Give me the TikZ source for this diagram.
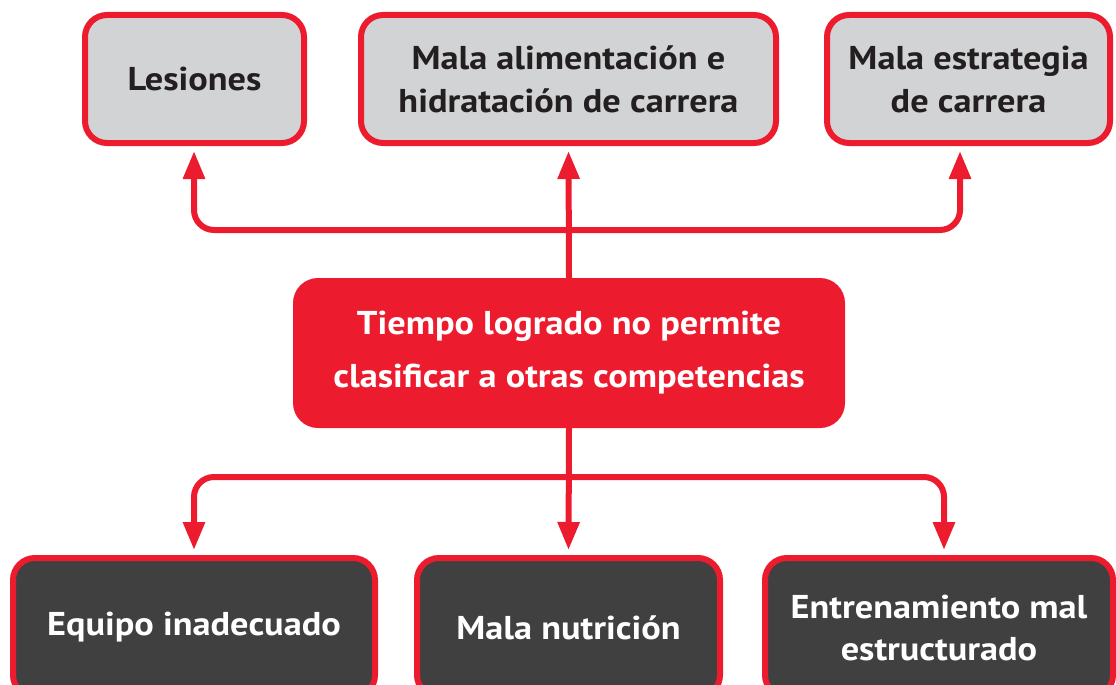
\documentclass[tikz,border=0pt]{standalone}
\usepackage{fontspec}
\setmainfont{PT Sans}[FakeStretch=1.1]
\usetikzlibrary{arrows.meta}
\definecolor{cred}{HTML}{EC1C2E}
\definecolor{cgray}{HTML}{D1D3D4}
\definecolor{cdark}{HTML}{404041}
\definecolor{ctext}{HTML}{231F20}
\tikzset{
  topbox/.style={draw=cred, line width=6pt, fill=cgray, rounded corners=22pt, inner sep=0pt,
    minimum height=128pt, align=center, text=ctext, font=\bfseries\fontsize{33}{43}\selectfont},
  botbox/.style={draw=cred, line width=6pt, fill=cdark, rounded corners=22pt, inner sep=0pt,
    minimum height=139pt, align=center, text=white, font=\bfseries\fontsize{33}{42}\selectfont},
  ctrbox/.style={fill=cred, rounded corners=25pt, inner sep=0pt, minimum width=552pt,
    minimum height=150pt, align=center, text=white, font=\bfseries\fontsize{33}{53}\selectfont},
  conn/.style={draw=cred, line width=6pt, rounded corners=20pt,
    -{Triangle[width=21pt,length=28pt]}, shorten >=5pt},
}
\begin{document}
\begin{tikzpicture}[x=1pt,y=-1pt]
\useasboundingbox (0,0) rectangle (1116,685);
\clip (0,0) rectangle (1116,685);
% top boxes
\node[topbox, minimum width=219pt] (les) at (194.5,79) {Lesiones};
\node[topbox, minimum width=415pt] (ali) at (568.5,79) {Mala alimentación e\\hidratación de carrera};
\node[topbox, minimum width=283pt] (est) at (968.5,79) {Mala estrategia\\de carrera};
% center
\node[ctrbox] (ctr) at (569,353) {Tiempo logrado no permite\\clasificar a otras competencias};
% bottom boxes
\node[botbox, minimum width=362pt] (equ) at (194,627.5) {Equipo inadecuado};
\node[botbox, minimum width=303pt] (nut) at (568.5,627.5) {Mala nutrición};
\node[botbox, minimum width=348pt] (ent) at (939,627.5) {Entrenamiento mal\\estructurado};
% junctions
\coordinate (hT) at (0,230);
\coordinate (hB) at (0,477);
\coordinate (jT) at (ctr.north |- hT);
\coordinate (jB) at (ctr.south |- hB);
\coordinate (lx) at (194,0);
\coordinate (rx) at (960,0);
\coordinate (bl) at (194,0);
\coordinate (br) at (944,0);
% top connectors
\draw[conn] (ctr.north) -- (ali.south);
\draw[conn] (jT) -- (jT -| lx) -- (les.south -| lx);
\draw[conn] (jT) -- (jT -| rx) -- (est.south -| rx);
% bottom connectors
\draw[conn] (ctr.south) -- (nut.north);
\draw[conn] (jB) -- (jB -| bl) -- (equ.north -| bl);
\draw[conn] (jB) -- (jB -| br) -- (ent.north -| br);
\end{tikzpicture}
\end{document}
